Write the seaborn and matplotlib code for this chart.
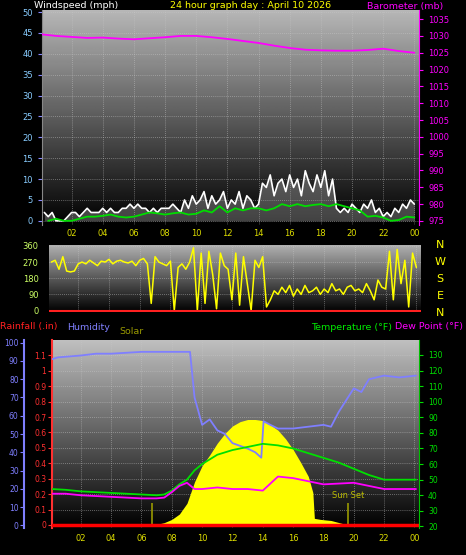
import numpy as np
import pandas as pd
import matplotlib
matplotlib.use("Agg")
import matplotlib.pyplot as plt
import seaborn as sns

# ---------------- data ----------------
baro_hours = list(range(25))
baro = [1030.5, 1030, 1029.7, 1029.4, 1029.5, 1029.2, 1029.0, 1029.3, 1029.6, 1030, 1030.0, 1029.6,
        1029.1, 1028.5, 1027.9, 1027.1, 1026.4, 1025.9, 1025.7, 1025.6, 1025.6, 1025.8, 1026.2, 1025.5, 1025.0]

q_hours = list(np.arange(0.25, 24.01, 0.25))
gust = [2, 1, 2, 0, 0, 0, 1, 2,
        2, 1, 2, 3, 2, 2, 2, 3,
        2, 3, 2, 2, 3, 3, 4, 3,
        4, 3, 3, 2, 3, 2, 3, 3,
        3, 4, 3, 2, 5, 3, 6, 4,
        5, 7, 3, 6, 4, 5, 7, 3,
        5, 4, 7, 3, 6, 5, 3, 4,
        9, 8, 11, 6, 9, 10, 7, 11,
        8, 10, 6, 12, 9, 7, 11, 8,
        12, 6, 10, 3, 2, 3, 2, 4,
        3, 2, 4, 3, 5, 2, 3, 1,
        2, 1, 3, 2, 4, 3, 5, 4]
h_hours = list(np.arange(0.5, 24.01, 0.5))
wind_avg = [0, 0.5, 0, 0, 0.5, 1, 1, 1.2, 1.5, 1, 0.8, 1, 1.5, 2, 1.8, 1.5, 1.8, 2, 1.5, 1.7,
            2.5, 2, 3.5, 2, 3, 2.5, 3, 3, 2.5, 3, 4, 3.5, 4, 3.5, 3.8, 4, 3.5, 4, 3.5, 3,
            2.5, 1, 1.2, 0.8, 0, 0.2, 1, 0.8]
wdir = [270, 280, 230, 300, 220, 215, 220, 260,
        270, 260, 280, 265, 250, 275, 270, 285,
        260, 275, 280, 270, 265, 275, 250, 280,
        290, 260, 40, 300, 270, 260, 250, 275,
        0, 240, 260, 230, 270, 350, 0, 320,
        40, 330, 200, 10, 320, 250, 230, 60,
        320, 30, 300, 150, 0, 280, 240, 300,
        20, 60, 110, 90, 130, 100, 140, 80,
        120, 90, 140, 100, 110, 130, 90, 120,
        100, 150, 110, 120, 90, 130, 140, 110,
        120, 100, 150, 110, 60, 170, 130, 120,
        330, 60, 340, 150, 280, 20, 320, 240]

t_hours = [0.1, 1, 2, 3, 4, 5, 6, 7, 7.5, 8, 8.5, 9, 9.5, 10, 11, 12, 13, 14, 15, 16, 17, 18, 19, 20, 21, 22, 23, 24.1]
temp = [44, 43.5, 42.5, 42, 41.5, 41, 40.5, 40, 40.5, 43, 47, 50, 56, 60, 66, 69, 71, 73, 72, 70, 67, 64, 61, 57, 53, 50, 50, 50]
dew = [41, 41, 40, 39.5, 39, 38.5, 38, 38, 38.5, 42, 46, 48, 44, 44, 45, 44, 44, 43, 52, 51, 49, 47, 47.5, 48, 46, 44, 44, 44]
hum_hours = [0.1, 0.5, 2, 3, 4, 6, 8, 9.2, 9.5, 10, 10.5, 11, 11.5, 12, 13, 13.5, 13.9, 14.05, 14.5, 15, 16, 17, 18, 18.5, 19, 20, 20.5, 21, 22, 23, 24.1]
humidity = [91, 92, 93, 94, 94, 95, 95, 95, 70, 55, 58, 52, 50, 45, 42, 40, 37, 57, 55, 53, 53, 54, 55, 54, 62, 75, 73, 80, 82, 81, 82]
solar_hours = [6.9, 7.5, 8, 8.5, 9, 9.5, 10, 10.5, 11, 11.5, 12, 12.5, 13, 13.5, 14, 14.5, 15, 15.5, 16, 16.5, 17, 17.3, 17.4, 17.8, 18.5, 19.3, 19.6]
solar = [0, 0.02, 0.05, 0.1, 0.2, 0.4, 0.55, 0.65, 0.76, 0.85, 0.92, 0.96, 0.98, 0.98, 0.97, 0.93, 0.88, 0.8, 0.7, 0.58, 0.45, 0.3, 0.06, 0.05, 0.04, 0.01, 0]
rain_hours = [0.1, 24.3]
rain = [0, 0]
hour_ticks = [2, 4, 6, 8, 10, 12, 14, 16, 18, 20, 22, 24]
hour_labels = ["02", "04", "06", "08", "10", "12", "14", "16", "18", "20", "22", "00"]

# ---------------- style ----------------
sns.set_style("dark")
plt.rcParams['font.family'] = ['DejaVu Sans']
plt.rcParams['font.size'] = 6
W, H = 466, 555
fig = plt.figure(figsize=(W / 100, H / 100), dpi=100, facecolor='black')


def axbox(x0, y0, x1, y1):
    return fig.add_axes([x0 / W, 1 - y1 / H, (x1 - x0) / W, (y1 - y0) / H])


def gradient(ax, top=0.72):
    ax.set_facecolor('black')
    g = np.linspace(top, 0.0, 200).reshape(-1, 1)
    ax.imshow(g, cmap='gray', vmin=0, vmax=1, aspect='auto', extent=[0, 1, 0, 1],
              transform=ax.transAxes, zorder=0)
    ax.grid(True, color='#c8c8c8', linestyle=(0, (1, 1.5)), linewidth=0.6, alpha=0.6)
    for s in ax.spines.values():
        s.set_visible(False)


XL = (0.1, 24.3)
HF = 6.8

# ---------------- top panel ----------------
ax1 = axbox(42, 10, 419, 225)
gradient(ax1)
ax1.fill_between(q_hours, gust, 0, color='#bbbbbb', alpha=0.35, lw=0)
df_g = pd.DataFrame({'h': q_hours, 'v': gust})
sns.lineplot(data=df_g, x='h', y='v', ax=ax1, color='white', lw=1.2)
df_a = pd.DataFrame({'h': h_hours, 'v': wind_avg})
sns.lineplot(data=df_a, x='h', y='v', ax=ax1, color='#00dd00', lw=1.3)
ax1.set_xlim(*XL)
ax1.set_ylim(-1, 50.5)
ax1.set_yticks(range(0, 51, 5))
ax1.set_xticks(hour_ticks)
ax1.set_xticklabels(hour_labels)
ax1.tick_params(axis='x', colors='#dddd00', labelsize=6, length=0, pad=3)
ax1.tick_params(axis='y', colors='#8888ff', labelcolor='#88ccff', labelsize=6, length=3)
ax1.set_xlabel(''); ax1.set_ylabel('')
ax1.spines['left'].set_visible(True); ax1.spines['left'].set_color('#888888')
ax1b = ax1.twinx()
df_b = pd.DataFrame({'h': baro_hours, 'v': baro})
sns.lineplot(data=df_b, x='h', y='v', ax=ax1b, color='#ff00ff', lw=1.3)
ax1b.set_ylim(973.8, 1037.7)
ax1b.set_yticks(range(975, 1036, 5))
ax1b.tick_params(axis='y', colors='#ff00ff', labelsize=6, length=3)
ax1b.set_ylabel('')
for s in ax1b.spines.values():
    s.set_visible(False)
ax1b.spines['right'].set_visible(True); ax1b.spines['right'].set_color('#ff00ff')
ax1b.grid(False)

fig.text(34 / W, 1 - 6 / H, 'Windspeed (mph)', color='white', fontsize=HF, va='center')
fig.text(251 / W, 1 - 6 / H, '24 hour graph day : April 10 2026', color='#ffff00', fontsize=HF, va='center', ha='center')
fig.text(443 / W, 1 - 6 / H, 'Barometer (mb)', color='#ff00ff', fontsize=HF, va='center', ha='right')

# ---------------- middle panel ----------------
ax2 = axbox(49, 245, 421, 312)
gradient(ax2, top=0.7)
df_d = pd.DataFrame({'h': q_hours, 'v': wdir})
sns.lineplot(data=df_d, x='h', y='v', ax=ax2, color='#ffff00', lw=1.1)
ax2.axhline(0, color='#ff2020', lw=1.5)
ax2.set_xlim(*XL)
ax2.set_ylim(-8, 365)
ax2.set_yticks([0, 90, 180, 270, 360])
ax2.set_xticks(hour_ticks)
ax2.set_xticklabels([])
ax2.tick_params(axis='x', length=0)
ax2.tick_params(axis='y', colors='#999900', labelcolor='#ccff66', labelsize=6, length=4, width=2)
ax2.set_xlabel(''); ax2.set_ylabel('')
for i, c in enumerate(['N', 'W', 'S', 'E', 'N']):
    fig.text(440 / W, 1 - (245 + i * 17) / H, c, color='#ffff00', fontsize=8, ha='center', va='center')

# ---------------- bottom panel ----------------
ax3 = axbox(52, 340, 419, 528)
gradient(ax3, top=0.75)
ax3.set_xlim(*XL)
ax3.set_ylim(-0.02, 1.2)
ax3.set_yticks([0, 0.1, 0.2, 0.3, 0.4, 0.5, 0.6, 0.7, 0.8, 0.9, 1, 1.1])
ax3.set_yticklabels(['0', '0.1', '0.2', '0.3', '0.4', '0.5', '0.6', '0.7', '0.8', '0.9', '1', '1.1'])
ax3.tick_params(axis='y', colors='#ff3030', labelsize=5.5, length=3, pad=1)
ax3.set_xticks(hour_ticks)
ax3.set_xticklabels(hour_labels)
ax3.tick_params(axis='x', colors='#dddd00', labelsize=6, length=0, pad=4)
ax3.spines['left'].set_visible(True); ax3.spines['left'].set_color('#ff3030')
ax3.spines['left'].set_linewidth(1.5)

axs = ax3.twinx()
axs.fill_between(solar_hours, solar, 0, color='#ffff00', lw=0, zorder=2)
axs.vlines([6.7, 19.6], 0, 0.2, color='#999900', lw=1.2)
axs.text(19.6, 0.25, 'Sun Set', color='#bbbb00', fontsize=6, ha='center')
axs.set_ylim(-0.03, 1.72)
axs.set_yticks([])
for s in axs.spines.values():
    s.set_visible(False)

df_r = pd.DataFrame({'h': rain_hours, 'v': rain})
axr = ax3.twinx()
axr.set_ylim(-0.02, 1.2)
sns.lineplot(data=df_r, x='h', y='v', ax=axr, color='#ff0000', lw=2.5)
axr.set_yticks([]); axr.set_ylabel('')
for s in axr.spines.values():
    s.set_visible(False)

axh = ax3.twinx()
df_h = pd.DataFrame({'h': hum_hours, 'v': humidity})
sns.lineplot(data=df_h, x='h', y='v', ax=axh, color='#7f7fff', lw=1.3)
axh.set_ylim(-1.5, 101.5)
axh.set_yticks(range(0, 101, 10))
axh.yaxis.set_ticks_position('left'); axh.yaxis.set_label_position('left')
for s in axh.spines.values():
    s.set_visible(False)
axh.spines['left'].set_visible(True)
axh.spines['left'].set_position(('outward', 20))
axh.spines['left'].set_color('#7f7fff'); axh.spines['left'].set_linewidth(1.5)
axh.tick_params(axis='y', colors='#7f7fff', labelsize=5.5, length=3, pad=1)
axh.set_ylabel('')

axt = ax3.twinx()
df_t = pd.DataFrame({'h': t_hours, 'v': temp})
df_dp = pd.DataFrame({'h': t_hours, 'v': dew})
sns.lineplot(data=df_t, x='h', y='v', ax=axt, color='#00e000', lw=1.3)
sns.lineplot(data=df_dp, x='h', y='v', ax=axt, color='#ff00ff', lw=1.3)
axt.set_ylim(19, 139.6)
axt.set_yticks(range(20, 131, 10))
for s in axt.spines.values():
    s.set_visible(False)
axt.spines['right'].set_visible(True); axt.spines['right'].set_color('#00c000')
axt.tick_params(axis='y', colors='#00e000', labelsize=5.5, length=3)
axt.set_ylabel('')
for a in (ax3, axs, axr, axh, axt):
    a.set_xlim(*XL); a.set_xlabel('')
for a in (axs, axr, axh, axt, ax1b):
    a.grid(False)

fig.text(0 / W, 1 - 327 / H, 'Rainfall (.in)', color='#ff2020', fontsize=HF, va='center')
fig.text(67 / W, 1 - 327 / H, 'Humidity', color='#8080ff', fontsize=HF, va='center')
fig.text(119 / W, 1 - 332 / H, 'Solar', color='#999900', fontsize=HF, va='center')
fig.text(392 / W, 1 - 327 / H, 'Temperature (°F)', color='#00ee00', fontsize=HF, va='center', ha='right')
fig.text(463 / W, 1 - 327 / H, 'Dew Point (°F)', color='#ff00ff', fontsize=HF, va='center', ha='right')

fig.savefig('out.png', dpi=100, facecolor='black')
